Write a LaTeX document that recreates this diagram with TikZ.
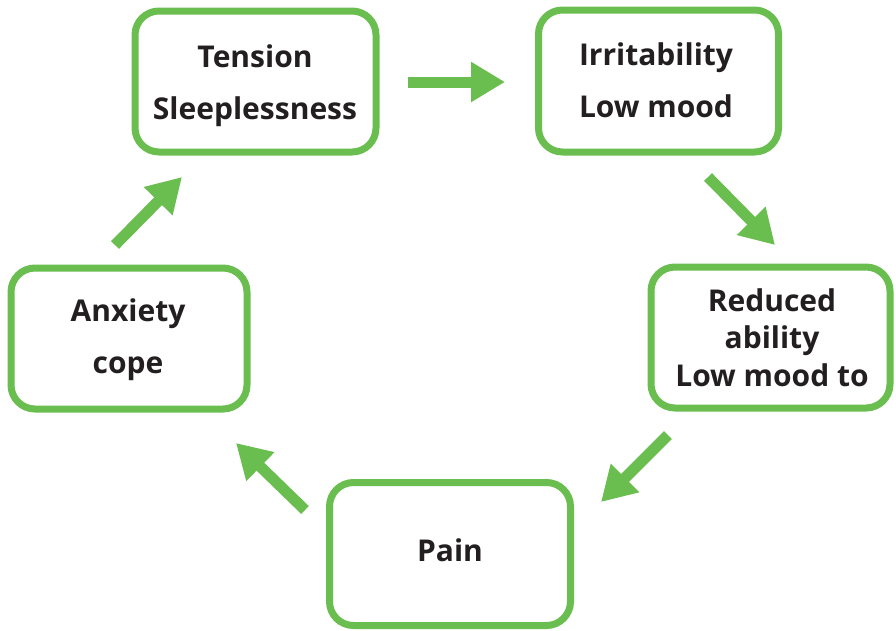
\documentclass[tikz,border=0pt]{standalone}
\usepackage{fontspec}
\setmainfont{Open Sans}
\usetikzlibrary{arrows.meta}
\definecolor{cgreen}{HTML}{69BE4F}
\definecolor{ctext}{HTML}{231F20}
\begin{document}
\begin{tikzpicture}[x=1pt,y=-1pt,
  cbox/.style={draw=cgreen, line width=7pt, rounded corners=24pt, fill=white, inner sep=0pt},
  ctxt/.style={inner sep=0pt, align=center, text=ctext, font=\bfseries\fontsize{30}{52}\selectfont},
  carrow/.style={draw=cgreen, line width=11pt, -{Triangle[width=38pt,length=34pt]}}]
\useasboundingbox (0,0) rectangle (896,630);
\node[cbox, minimum width=241pt, minimum height=141pt] (b1) at (255.5,81.5) {};
\node[cbox, minimum width=240pt, minimum height=142pt] (b2) at (658.5,81) {};
\node[cbox, minimum width=239pt, minimum height=141pt] (b3) at (770.5,337.5) {};
\node[cbox, minimum width=241pt, minimum height=143pt] (b4) at (450,554) {};
\node[cbox, minimum width=236pt, minimum height=141pt] (b5) at (129,338.5) {};
\node[ctxt] (t1) at (255,85.5) {Tension\\Sleeplessness};
\node[ctxt] (t2) at (656,80.5) {Irritability\\Low mood};
\node[ctxt, font=\bfseries\fontsize{30}{37.5}\selectfont] (t3) at (772,337.5) {Reduced\\ability\\Low mood to};
\node[ctxt] (t4) at (450,550) {Pain};
\node[ctxt] (t5) at (128,339.5) {Anxiety\\cope};
\coordinate (a1s) at (408,82); \coordinate (a1e) at (505,82);
\coordinate (a2s) at (708,177); \coordinate (a2e) at (775,245);
\coordinate (a3s) at (668,435); \coordinate (a3e) at (601,502);
\coordinate (a4s) at (305,510); \coordinate (a4e) at (236,443);
\coordinate (a5s) at (115,245); \coordinate (a5e) at (182,177);
\draw[carrow] (a1s) -- (a1e);
\draw[carrow] (a2s) -- (a2e);
\draw[carrow] (a3s) -- (a3e);
\draw[carrow] (a4s) -- (a4e);
\draw[carrow] (a5s) -- (a5e);
\end{tikzpicture}
\end{document}
